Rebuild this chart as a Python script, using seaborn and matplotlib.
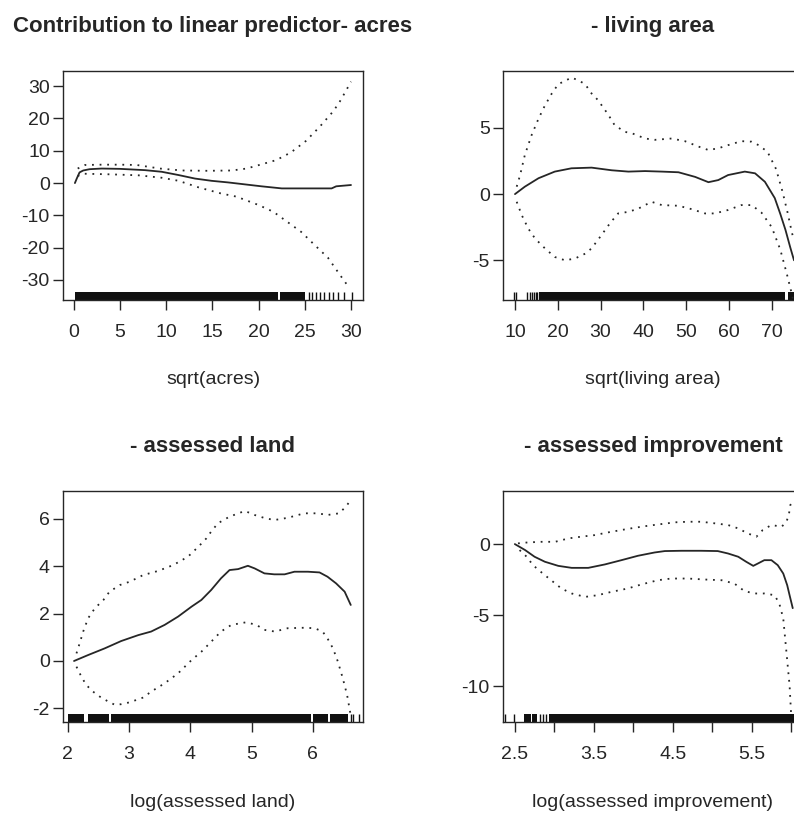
import matplotlib
matplotlib.use('Agg')
import matplotlib.pyplot as plt
import seaborn as sns

# ---- panel 1: sqrt(acres) ----
acres_x = [0.1, 0.3, 0.6, 1.0, 1.7, 3.0, 5.0, 7.7, 9.5, 11.3, 13.1, 14.9, 16.7, 18.5, 20.3, 22.5, 25.0, 27.9, 28.4, 30.0]
acres_fit = [0.0, 1.4, 3.3, 3.9, 4.3, 4.5, 4.4, 4.0, 3.5, 2.5, 1.4, 0.7, 0.2, -0.4, -1.0, -1.65, -1.65, -1.65, -1.0, -0.6]
acres_up_x = [0.4, 1.2, 3.0, 5.0, 6.8, 9.3, 11.7, 14.5, 17.1, 18.7, 20.3, 21.9, 23.5, 25.1, 26.6, 28.1, 28.8, 29.4, 30.0]
acres_up = [4.5, 5.6, 5.7, 5.7, 5.6, 4.5, 3.9, 3.8, 3.9, 4.5, 5.8, 7.1, 9.5, 13.0, 17.4, 22.3, 25.3, 28.3, 31.4]
acres_lo_x = [0.4, 1.0, 4.0, 7.0, 9.5, 11.3, 13.5, 15.9, 17.6, 20.0, 21.6, 23.1, 24.6, 26.0, 27.5, 28.7, 29.8]
acres_lo = [2.2, 2.9, 2.7, 2.4, 1.65, 0.72, -1.34, -3.2, -4.2, -6.8, -8.9, -12.0, -15.1, -19.0, -23.1, -28.0, -32.4]
acres_rug_spans = [(0.1, 22.1), (22.3, 25.0)]
acres_rug_ticks = [25.4, 25.8, 26.2, 26.6, 27.1, 27.6, 28.0, 28.6, 29.2, 30.1]

# ---- panel 2: sqrt(living area) ----
living_x = [10.0, 12.3, 15.5, 19.3, 23.2, 27.9, 32.6, 36.5, 40.4, 44.3, 48.2, 52.1, 55.2, 57.5, 59.8, 63.7, 66.1, 68.4, 70.7, 72.0, 73.2, 74.3, 75.2]
living_fit = [0.0, 0.56, 1.2, 1.7, 1.95, 2.0, 1.8, 1.7, 1.74, 1.7, 1.65, 1.3, 0.9, 1.06, 1.44, 1.7, 1.57, 0.93, -0.3, -1.5, -2.7, -4.0, -5.0]
living_up_x = [10.4, 11.2, 12.3, 13.9, 15.5, 17.0, 18.6, 20.1, 23.2, 24.8, 26.4, 27.9, 29.4, 31.8, 33.3, 35.7, 37.3, 40.4, 42.7, 46.6, 49.7, 52.8, 55.2, 57.5, 59.8, 62.9, 65.3, 66.9, 69.0, 71.0, 72.5, 73.7, 74.7, 75.2]
living_up = [0.56, 1.44, 2.95, 4.47, 5.7, 6.7, 7.6, 8.3, 8.8, 8.6, 8.3, 7.6, 7.1, 6.0, 5.2, 4.7, 4.6, 4.2, 4.1, 4.2, 4.0, 3.6, 3.33, 3.46, 3.7, 4.0, 3.96, 3.7, 3.2, 1.9, 0.2, -1.4, -2.9, -3.5]
living_lo_x = [10.4, 11.6, 13.1, 14.7, 17.0, 19.3, 21.7, 24.0, 26.4, 27.9, 30.2, 32.2, 34.1, 36.5, 38.8, 41.9, 44.3, 48.2, 51.3, 54.4, 56.7, 59.8, 62.9, 65.3, 67.6, 70.0, 72.0, 73.5, 74.5, 75.2]
living_lo = [-0.58, -1.6, -2.6, -3.36, -4.1, -4.75, -5.0, -4.87, -4.5, -4.1, -3.1, -2.2, -1.46, -1.34, -1.1, -0.58, -0.83, -0.88, -1.14, -1.46, -1.46, -1.2, -0.83, -0.83, -1.4, -2.5, -4.2, -6.0, -7.3, -8.3]
living_rug_spans = [(15.5, 73.0), (73.7, 77.0)]
living_rug_ticks = [9.8, 10.3, 12.8, 13.4, 14.0, 14.4, 14.8, 15.2]

# ---- panel 3: log(assessed land) ----
land_x = [2.1, 2.33, 2.6, 2.87, 3.15, 3.36, 3.58, 3.8, 4.02, 4.18, 4.34, 4.5, 4.64, 4.78, 4.94, 5.05, 5.21, 5.37, 5.54, 5.7, 5.92, 6.11, 6.24, 6.38, 6.52, 6.62]
land_fit = [0.0, 0.25, 0.53, 0.84, 1.09, 1.24, 1.52, 1.87, 2.29, 2.57, 2.99, 3.48, 3.83, 3.87, 4.01, 3.9, 3.69, 3.65, 3.65, 3.76, 3.76, 3.73, 3.55, 3.27, 2.92, 2.36]
land_up_x = [2.14, 2.2, 2.25, 2.33, 2.44, 2.58, 2.68, 2.85, 3.01, 3.23, 3.47, 3.72, 3.96, 4.13, 4.26, 4.34, 4.45, 4.64, 4.89, 5.05, 5.24, 5.38, 5.59, 5.86, 6.08, 6.24, 6.43, 6.54, 6.62]
land_up = [0.32, 0.81, 1.24, 1.8, 2.22, 2.57, 2.92, 3.2, 3.34, 3.62, 3.79, 4.04, 4.39, 4.81, 5.16, 5.45, 5.8, 6.08, 6.32, 6.15, 6.0, 5.94, 6.03, 6.22, 6.22, 6.15, 6.22, 6.5, 6.78]
land_lo_x = [2.14, 2.22, 2.3, 2.41, 2.52, 2.66, 2.77, 2.87, 3.01, 3.23, 3.36, 3.58, 3.8, 4.02, 4.18, 4.34, 4.5, 4.67, 4.91, 5.08, 5.21, 5.38, 5.59, 5.86, 6.03, 6.16, 6.24, 6.33, 6.41, 6.49, 6.56, 6.62]
land_lo = [-0.24, -0.66, -1.01, -1.29, -1.5, -1.71, -1.85, -1.82, -1.74, -1.54, -1.29, -0.94, -0.52, 0.04, 0.39, 0.81, 1.24, 1.52, 1.63, 1.52, 1.31, 1.24, 1.38, 1.4, 1.38, 1.24, 0.95, 0.53, -0.03, -0.73, -1.43, -2.3]
land_rug_spans = [(2.0, 2.27), (2.33, 2.67), (2.71, 5.97), (6.0, 6.25), (6.28, 6.58)]
land_rug_ticks = [6.62, 6.66, 6.76]

# ---- panel 4: log(assessed improvement) ----
impr_x = [2.5, 2.63, 2.75, 2.88, 3.05, 3.22, 3.43, 3.64, 3.85, 4.06, 4.27, 4.4, 4.61, 4.86, 5.07, 5.2, 5.33, 5.43, 5.52, 5.58, 5.66, 5.75, 5.83, 5.9, 5.95, 5.98, 6.02]
impr_fit = [0.0, -0.42, -0.89, -1.24, -1.53, -1.67, -1.67, -1.43, -1.13, -0.82, -0.59, -0.49, -0.47, -0.47, -0.49, -0.66, -0.89, -1.24, -1.53, -1.36, -1.13, -1.13, -1.48, -2.07, -2.89, -3.59, -4.5]
impr_up_x = [2.54, 2.67, 2.84, 3.01, 3.18, 3.34, 3.51, 3.68, 3.85, 4.02, 4.19, 4.36, 4.53, 4.69, 4.86, 5.03, 5.2, 5.33, 5.45, 5.56, 5.64, 5.75, 5.88, 5.94, 5.97, 5.99, 6.02]
impr_up = [0.05, 0.12, 0.16, 0.16, 0.4, 0.52, 0.63, 0.82, 0.99, 1.15, 1.29, 1.41, 1.53, 1.57, 1.57, 1.46, 1.34, 1.1, 0.75, 0.52, 0.99, 1.34, 1.22, 1.57, 2.04, 2.75, 3.0]
impr_lo_x = [2.56, 2.65, 2.73, 2.84, 2.96, 3.09, 3.22, 3.39, 3.55, 3.72, 3.93, 4.1, 4.31, 4.48, 4.69, 4.91, 5.12, 5.28, 5.41, 5.54, 5.66, 5.79, 5.85, 5.9, 5.92, 5.94, 5.96, 5.98, 6.0]
impr_lo = [-0.42, -0.89, -1.48, -2.0, -2.54, -3.12, -3.47, -3.71, -3.59, -3.36, -3.12, -2.84, -2.54, -2.42, -2.42, -2.49, -2.54, -2.77, -3.31, -3.47, -3.47, -3.59, -4.18, -5.23, -6.41, -7.58, -8.76, -9.93, -12.0]
impr_rug_spans = [(2.62, 2.70), (2.72, 2.78), (2.93, 6.05)]
impr_rug_ticks = [2.38, 2.49, 2.82, 2.86, 2.90]

# axis ticks / labels
acres_xticks = [0, 5, 10, 15, 20, 25, 30]
acres_yticks = [-30, -20, -10, 0, 10, 20, 30]
living_xticks = [10, 20, 30, 40, 50, 60, 70]
living_yticks = [-5, 0, 5]
land_xticks = [2, 3, 4, 5, 6]
land_yticks = [-2, 0, 2, 4, 6]
impr_xticks = [2.5, 3.0, 3.5, 4.0, 4.5, 5.0, 5.5, 6.0]
impr_xticklabels = ['2.5', '', '3.5', '', '4.5', '', '5.5', '']
impr_yticks = [-10, -5, 0]

titles = ['Contribution to linear predictor- acres', '- living area',
          '- assessed land', '- assessed improvement']
xlabels = ['sqrt(acres)', 'sqrt(living area)', 'log(assessed land)',
           'log(assessed improvement)']

sns.set_style('ticks')
INK = '#262626'
plt.rcParams.update({
    'font.family': ['Liberation Sans', 'DejaVu Sans'],
    'axes.unicode_minus': False,
    'text.color': INK,
    'axes.labelcolor': INK,
    'axes.edgecolor': INK,
    'xtick.color': INK,
    'ytick.color': INK,
})

fig = plt.figure(figsize=(7.94, 8.14), dpi=100)
W, H = 794, 814


def add_box(left, top, width, height):
    return fig.add_axes([left / W, 1 - (top + height) / H, width / W, height / H])


DOTS = (0, (1, 3.2))


def draw_panel(ax, fx, fy, ux, uy, lx, ly, spans, ticks, xticks, xticklabels,
               yticks, xlim, ylim, title, xlabel):
    sns.lineplot(x=fx, y=fy, ax=ax, color=INK, lw=1.3, estimator=None, sort=False)
    sns.lineplot(x=ux, y=uy, ax=ax, color=INK, lw=1.3, linestyle=DOTS,
                 estimator=None, sort=False)
    sns.lineplot(x=lx, y=ly, ax=ax, color=INK, lw=1.3, linestyle=DOTS,
                 estimator=None, sort=False)
    for a, b in spans:
        ax.axvspan(a, b, ymin=0, ymax=0.035, color='#111111', lw=0)
    sns.rugplot(x=ticks, ax=ax, height=0.035, color='#111111', lw=1,
                expand_margins=False)
    ax.set_xlim(*xlim)
    ax.set_ylim(*ylim)
    ax.set_xticks(xticks)
    ax.set_xticklabels(xticklabels)
    ax.set_yticks(yticks)
    ax.set_yticklabels([str(v) for v in yticks])
    ax.tick_params(axis='both', direction='out', length=7.5, width=1, labelsize=14)
    ax.tick_params(axis='x', pad=10)
    ax.tick_params(axis='y', pad=2)
    for sp in ax.spines.values():
        sp.set_visible(True)
        sp.set_linewidth(1.0)
    ax.set_title(title, fontsize=16, fontweight='bold', pad=28, color=INK)
    ax.set_xlabel(xlabel, fontsize=14)
    ax.set_ylabel('')
    ax.xaxis.set_label_coords(0.5, -0.31)


ax1 = add_box(63, 71, 300, 229)
draw_panel(ax1, acres_x, acres_fit, acres_up_x, acres_up, acres_lo_x, acres_lo,
           acres_rug_spans, acres_rug_ticks, acres_xticks,
           [str(v) for v in acres_xticks], acres_yticks,
           (-1.19, 31.3), (-36.2, 34.7), titles[0], xlabels[0])

ax2 = add_box(503, 71, 300, 229)
draw_panel(ax2, living_x, living_fit, living_up_x, living_up, living_lo_x, living_lo,
           living_rug_spans, living_rug_ticks, living_xticks,
           [str(v) for v in living_xticks], living_yticks,
           (7.2, 77.3), (-8.0, 9.3), titles[1], xlabels[1])

ax3 = add_box(63, 491, 300, 231)
draw_panel(ax3, land_x, land_fit, land_up_x, land_up, land_lo_x, land_lo,
           land_rug_spans, land_rug_ticks, land_xticks,
           [str(v) for v in land_xticks], land_yticks,
           (1.92, 6.82), (-2.57, 7.16), titles[2], xlabels[2])

ax4 = add_box(503, 491, 300, 231)
draw_panel(ax4, impr_x, impr_fit, impr_up_x, impr_up, impr_lo_x, impr_lo,
           impr_rug_spans, impr_rug_ticks, impr_xticks, impr_xticklabels,
           impr_yticks, (2.35, 6.15), (-12.5, 3.73), titles[3], xlabels[3])

fig.savefig('out.png', dpi=100)
